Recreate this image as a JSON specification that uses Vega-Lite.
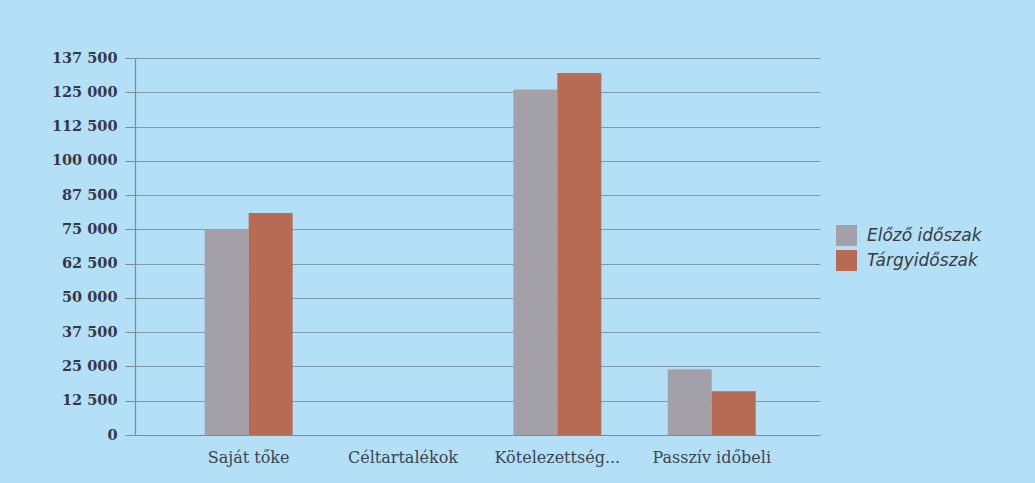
{
  "$schema": "https://vega.github.io/schema/vega-lite/v6.json",
  "autosize": {"type": "none"},
  "width": 685,
  "height": 377,
  "padding": {"left": 135, "top": 58, "right": 215, "bottom": 48},
  "background": "#b3e0f6",
  "data": {
    "values": [
      {"kategoria": "Saját tőke", "idoszak": "Előző időszak", "ertek": 75000},
      {"kategoria": "Saját tőke", "idoszak": "Tárgyidőszak", "ertek": 81000},
      {"kategoria": "Céltartalékok", "idoszak": "Előző időszak", "ertek": 0},
      {"kategoria": "Céltartalékok", "idoszak": "Tárgyidőszak", "ertek": 0},
      {"kategoria": "Kötelezettség...", "idoszak": "Előző időszak", "ertek": 126000},
      {"kategoria": "Kötelezettség...", "idoszak": "Tárgyidőszak", "ertek": 132000},
      {"kategoria": "Passzív időbeli", "idoszak": "Előző időszak", "ertek": 24000},
      {"kategoria": "Passzív időbeli", "idoszak": "Tárgyidőszak", "ertek": 16000}
    ]
  },
  "mark": {"type": "bar"},
  "encoding": {
    "x": {
      "field": "kategoria",
      "type": "nominal",
      "sort": ["Saját tőke", "Céltartalékok", "Kötelezettség...", "Passzív időbeli"],
      "scale": {"paddingInner": 0.43, "paddingOuter": 0.434, "align": 0.52},
      "axis": {
        "title": null,
        "labelAngle": 0,
        "ticks": false,
        "labelPadding": 14,
        "labelFont": "DejaVu Serif",
        "labelFontSize": 16,
        "labelColor": "#3d4452",
        "domainColor": "#7c8a94",
        "domainWidth": 1.2,
        "grid": false
      }
    },
    "xOffset": {
      "field": "idoszak",
      "type": "nominal",
      "scale": {"paddingInner": 0, "paddingOuter": 0}
    },
    "y": {
      "field": "ertek",
      "type": "quantitative",
      "scale": {"domain": [0, 137500], "nice": false},
      "axis": {
        "title": null,
        "values": [0, 12500, 25000, 37500, 50000, 62500, 75000, 87500, 100000, 112500, 125000, 137500],
        "labelExpr": "replace(format(datum.value, ','), ',', ' ')",
        "labelFont": "DejaVu Serif",
        "labelFontSize": 14.5,
        "labelFontWeight": "bold",
        "labelColor": "#363848",
        "labelPadding": 8,
        "tickSize": 10,
        "tickColor": "#7c8a94",
        "domainColor": "#7c8a94",
        "domainWidth": 1.2,
        "grid": true,
        "gridColor": "#7f9aab",
        "gridWidth": 1
      }
    },
    "color": {
      "field": "idoszak",
      "type": "nominal",
      "scale": {"domain": ["Előző időszak", "Tárgyidőszak"], "range": ["#a4a0a8", "#b86b54"]},
      "legend": {
        "title": null,
        "orient": "none",
        "legendX": 701,
        "legendY": 167,
        "symbolType": "square",
        "symbolSize": 440,
        "symbolStrokeWidth": 0,
        "labelFont": "DejaVu Sans",
        "labelFontStyle": "oblique",
        "labelFontSize": 17,
        "labelColor": "#3a3a40",
        "labelOffset": 10,
        "rowPadding": 4
      }
    }
  },
  "config": {
    "view": {"stroke": null}
  }
}
